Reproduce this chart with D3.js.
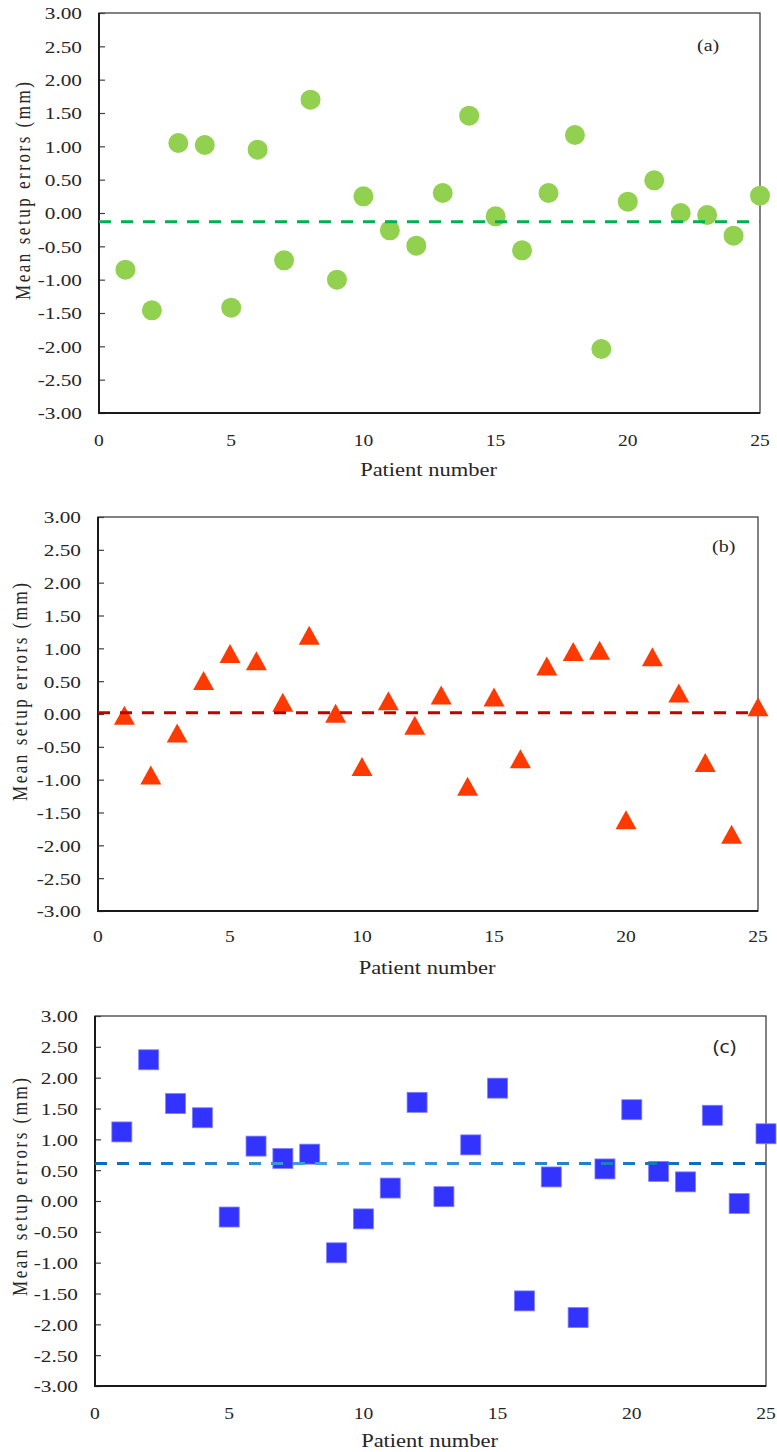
<!doctype html>
<html lang="en">
<head>
  <meta charset="UTF-8">
  <title>Mean setup errors per patient</title>
  <script src="https://cdnjs.cloudflare.com/ajax/libs/d3/7.8.5/d3.min.js"></script>
  <style>
  body { margin: 0; background: #fff; }
  text { font-family: "Liberation Serif", "Times New Roman", serif; fill: #262626; }
  </style>
</head>
<body>
<script>

// patient numbers on the x axis
var patients = [1, 2, 3, 4, 5, 6, 7, 8, 9, 10, 11, 12, 13, 14, 15, 16, 17, 18, 19, 20, 21, 22, 23, 24, 25];

// mean setup errors (mm)
var errorsA = [-0.85, -1.46, 1.05, 1.02, -1.42, 0.95, -0.71, 1.70, -1.00, 0.25, -0.26, -0.49, 0.30,
               1.46, -0.05, -0.56, 0.30, 1.17, -2.04, 0.17, 0.49, 0.00, -0.03, -0.34, 0.26];
var errorsB = [-0.02, -0.93, -0.29, 0.51, 0.92, 0.81, 0.18, 1.20, 0.01, -0.80, 0.20, -0.17, 0.29,
               -1.10, 0.26, -0.68, 0.73, 0.95, 0.97, -1.61, 0.87, 0.32, -0.74, -1.83, 0.11];
var errorsC = [1.12, 2.29, 1.58, 1.35, -0.26, 0.89, 0.69, 0.76, -0.84, -0.29, 0.21, 1.60, 0.07,
               0.91, 1.83, -1.62, 0.39, -1.89, 0.52, 1.48, 0.48, 0.31, 1.39, -0.04, 1.09];

// dashed mean lines
var meanA = -0.13;
var meanB = 0.02;
var meanC = 0.61;

var yTicks = [3, 2.5, 2, 1.5, 1, 0.5, 0, -0.5, -1, -1.5, -2, -2.5, -3];
var xTicks = [0, 5, 10, 15, 20, 25];
var panelNames = ['(a)', '(b)', '(c)'];

var w = 777;
var h = 1452;
var stretch = 1.25; // the source picture is a little wider than it is tall

var svg = d3.select('body')
  .append('svg')
  .attr('width', w)
  .attr('height', h);

var grad = svg.append('defs').append('linearGradient')
  .attr('id', 'blueDash')
  .attr('x1', '0%').attr('x2', '100%');
grad.append('stop').attr('offset', '0%').attr('stop-color', '#0868b8');
grad.append('stop').attr('offset', '35%').attr('stop-color', '#4aa2de');
grad.append('stop').attr('offset', '65%').attr('stop-color', '#2a88cf');
grad.append('stop').attr('offset', '100%').attr('stop-color', '#0464b4');

var panels = [
  { values: errorsA, mean: meanA, name: panelNames[0], shape: 'circle', fill: '#92d050', dash: '#00b050',
    left: 99, right: 760, top: 13, bottom: 413, xLab: 33, title: 476, yTitle: 191, yTitleX: 23, nameX: 697, nameY: 51, sans: false },
  { values: errorsB, mean: meanB, name: panelNames[1], shape: 'triangle', fill: '#ff3a00', dash: '#c00000',
    left: 98, right: 758, top: 517, bottom: 911, xLab: 31, title: 974, yTitle: 692, yTitleX: 20, nameX: 712, nameY: 552, sans: false },
  { values: errorsC, mean: meanC, name: panelNames[2], shape: 'square', fill: '#3333ff', dash: 'url(#blueDash)',
    left: 95, right: 766, top: 1016, bottom: 1386, xLab: 33, title: 1447, yTitle: 1187, yTitleX: 20, nameX: 713, nameY: 1053, sans: true }
];

panels.forEach(function(p) {
  var x = d3.scaleLinear().domain([0, 25]).range([p.left, p.right]);
  var y = d3.scaleLinear().domain([-3, 3]).range([p.bottom, p.top]);
  var g = svg.append('g');

  // y axis, ticks pointing into the plot
  var yAxis = g.append('g')
    .attr('transform', 'translate(' + p.left + ',0)')
    .call(d3.axisLeft(y).tickValues(yTicks).tickSize(-6).tickPadding(17)
      .tickFormat(function(d) { return d.toFixed(2); }));
  yAxis.select('.domain').remove();
  yAxis.selectAll('line').attr('stroke', '#404040').attr('stroke-width', 1.2);
  yAxis.selectAll('text')
    .attr('x', -17 / stretch)
    .attr('dy', '0.35em')
    .attr('transform', 'scale(' + stretch + ',1)')
    .style('font-size', '17px')
    .attr('font-family', null)
    .attr('fill', '#262626');

  // x axis, labels only
  var xAxis = g.append('g')
    .attr('transform', 'translate(0,' + p.bottom + ')')
    .call(d3.axisBottom(x).tickValues(xTicks).tickSize(0));
  xAxis.select('.domain').remove();
  xAxis.selectAll('text')
    .attr('y', p.xLab)
    .attr('dy', '0')
    .attr('transform', 'scale(' + (stretch * 0.92) + ',1)')
    .attr('font-family', null)
    .attr('fill', '#262626')
    .style('font-size', '17px');
  xAxis.selectAll('.tick')
    .attr('transform', function(d) { return 'translate(' + x(d) + ',0)'; });

  // frame
  g.append('rect')
    .attr('x', p.left).attr('y', p.top)
    .attr('width', p.right - p.left).attr('height', p.bottom - p.top)
    .attr('fill', 'none').attr('stroke', '#404040').attr('stroke-width', 1.3);
  g.append('line')
    .attr('x1', p.left).attr('x2', p.left).attr('y1', p.top).attr('y2', p.bottom + 1)
    .attr('stroke', '#1a1a1a').attr('stroke-width', 2);
  g.append('line')
    .attr('x1', p.left - 1).attr('x2', p.right).attr('y1', p.bottom).attr('y2', p.bottom)
    .attr('stroke', '#1a1a1a').attr('stroke-width', 2);

  // markers
  var pts = g.append('g');
  if (p.shape === 'circle') {
    pts.selectAll('circle')
      .data(p.values)
      .enter()
      .append('circle')
      .attr('cx', function(d, i) { return x(patients[i]); })
      .attr('cy', function(d) { return y(d); })
      .attr('r', 10)
      .attr('fill', p.fill);
  } else if (p.shape === 'triangle') {
    pts.selectAll('path')
      .data(p.values)
      .enter()
      .append('path')
      .attr('d', 'M0,-9.5L10.5,9.5L-10.5,9.5Z')
      .attr('transform', function(d, i) { return 'translate(' + x(patients[i]) + ',' + y(d) + ')'; })
      .attr('fill', p.fill);
  } else {
    pts.selectAll('rect')
      .data(p.values)
      .enter()
      .append('rect')
      .attr('x', function(d, i) { return x(patients[i]) - 10; })
      .attr('y', function(d) { return y(d) - 10; })
      .attr('width', 20)
      .attr('height', 20)
      .attr('fill', p.fill)
      .attr('stroke', '#8080ff')
      .attr('stroke-width', 0.8);
  }

  // dashed mean line
  g.append('line')
    .attr('x1', x(0)).attr('x2', x(25))
    .attr('y1', y(p.mean)).attr('y2', y(p.mean) + 0.01)
    .attr('stroke', p.dash)
    .attr('stroke-width', 3)
    .attr('stroke-dasharray', '12,10');

  // panel name
  g.append('text')
    .attr('transform', 'translate(' + p.nameX + ',' + p.nameY + ') scale(' + (p.sans ? 1.2 : stretch) + ',1)')
    .style('font-family', p.sans ? '"Open Sans", "Liberation Sans", sans-serif' : null)
    .style('font-size', p.sans ? '18px' : '16px')
    .text(p.name);

  // axis titles
  g.append('text')
    .attr('transform', 'translate(' + ((p.left + p.right) / 2 - 1) + ',' + p.title + ') scale(' + stretch + ',1)')
    .attr('text-anchor', 'middle')
    .style('font-size', '18px')
    .text('Patient number');

  g.append('text')
    .attr('transform', 'translate(' + p.yTitleX + ',' + p.yTitle + ') rotate(-90) scale(1,' + stretch + ')')
    .attr('text-anchor', 'middle')
    .attr('dy', '0.35em')
    .attr('textLength', 218)
    .attr('lengthAdjust', 'spacing')
    .style('font-size', '17px')
    .text('Mean  setup  errors (mm)');
});

</script>
</body>
</html>
